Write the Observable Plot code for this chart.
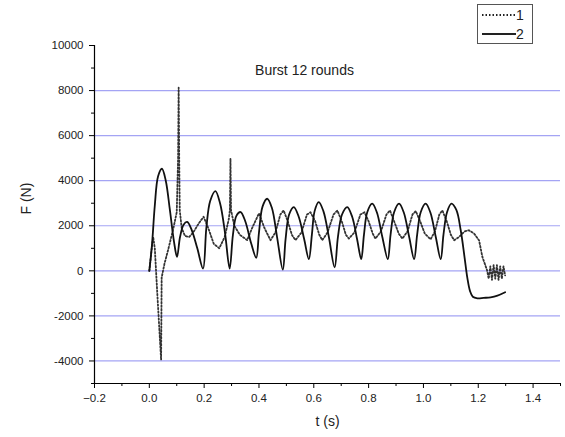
<!DOCTYPE html>
<html>
<head>
<meta charset="utf-8">
<script src="https://cdn.jsdelivr.net/npm/d3@7"></script>
<script src="https://cdn.jsdelivr.net/npm/@observablehq/plot@0.6"></script>
<style>
  html, body { margin: 0; padding: 0; background: #fff; }
  #chart { width: 565px; height: 437px; }
</style>
</head>
<body>
<div id="chart"></div>
<script>
// ---- data ----
const titleText = "Burst 12 rounds";
const xLabel = "t (s)";
const yLabel = "F (N)";
const seriesNames = ["1", "2"];

const xDomain = [-0.2, 1.5];
const yDomain = [-5000, 10000];
const xTicks = [-0.2, 0.0, 0.2, 0.4, 0.6, 0.8, 1.0, 1.2, 1.4];
const xMinorTicks = [-0.1, 0.1, 0.3, 0.5, 0.7, 0.9, 1.1, 1.3, 1.5];
const yTicks = [-4000, -2000, 0, 2000, 4000, 6000, 8000, 10000];
const yMinorTicks = [-5000, -3000, -1000, 1000, 3000, 5000, 7000, 9000];
const gridValues = [-4000, -2000, 0, 2000, 4000, 6000, 8000];

// series 1 (dotted)
const t1 = [0.000, 0.008, 0.014, 0.020, 0.030, 0.043, 0.045, 0.055, 0.070, 0.088, 0.100, 0.105, 0.107, 0.109, 0.111,
  0.118, 0.130, 0.145, 0.160, 0.180, 0.198, 0.215, 0.235, 0.255, 0.275, 0.290, 0.294, 0.296, 0.298,
  0.310, 0.330, 0.357, 0.375, 0.400, 0.420, 0.442, 0.460, 0.478, 0.490, 0.505, 0.520, 0.533,
  0.555, 0.575, 0.588, 0.605, 0.620, 0.631, 0.650, 0.672, 0.686, 0.702, 0.717, 0.728,
  0.748, 0.770, 0.785, 0.800, 0.815, 0.825, 0.845, 0.865, 0.878, 0.893, 0.910, 0.923,
  0.942, 0.960, 0.972, 0.988, 1.005, 1.026, 1.042, 1.058, 1.069, 1.085, 1.100, 1.112,
  1.130, 1.150, 1.166, 1.185, 1.203, 1.215, 1.232, 1.238, 1.244, 1.250, 1.256, 1.262,
  1.268, 1.274, 1.280, 1.286, 1.292, 1.298];
const f1 = [0, 900, 1500, 1000, -1200, -3950, -300, 300, 1000, 1900, 2600, 5000, 8130, 5000, 2700,
  1900, 1550, 1500, 1700, 2100, 2400, 1900, 1200, 1000, 1500, 2300, 2700, 4980, 2700,
  2000, 1600, 1360, 1900, 2550, 1900, 1360, 1700, 2500, 2680, 2200, 1600, 1360,
  1700, 2500, 2600, 2200, 1600, 1360, 1700, 2500, 2680, 2200, 1600, 1430,
  1700, 2500, 2600, 2200, 1650, 1430, 1750, 2500, 2680, 2200, 1650, 1430,
  1750, 2500, 2650, 2200, 1650, 1400, 1750, 2500, 2680, 2200, 1600, 1360,
  1500, 1750, 1800, 1650, 1350, 620, 30, -350, 200, -400, 250, -350,
  250, -400, 200, -350, 200, -200];

// series 2 (solid)
const t2 = [0.000, 0.010, 0.020, 0.032, 0.046, 0.060, 0.075, 0.090, 0.101, 0.112, 0.125, 0.138, 0.155, 0.175, 0.196,
  0.208, 0.222, 0.241, 0.258, 0.276, 0.293, 0.305, 0.318, 0.333, 0.350, 0.372, 0.390,
  0.400, 0.413, 0.430, 0.447, 0.466, 0.487, 0.497, 0.510, 0.527, 0.545, 0.565, 0.582,
  0.593, 0.603, 0.618, 0.635, 0.655, 0.676, 0.688, 0.703, 0.722, 0.740, 0.758, 0.773,
  0.783, 0.795, 0.813, 0.830, 0.850, 0.870, 0.880, 0.893, 0.911, 0.928, 0.948, 0.966,
  0.977, 0.990, 1.008, 1.025, 1.045, 1.063, 1.073, 1.086, 1.102, 1.120, 1.136, 1.150,
  1.160, 1.170, 1.180, 1.197, 1.220, 1.245, 1.270, 1.298];
const f2 = [0, 1200, 2900, 4200, 4530, 4000, 2700, 1300, 620, 1500, 2050, 2170, 1800, 1000, 100,
  1900, 3100, 3540, 3000, 1700, 100, 1600, 2450, 2610, 2200, 1200, 580,
  1700, 2850, 3200, 2800, 1500, 50, 1400, 2500, 2830, 2400, 1400, 520,
  1600, 2650, 3050, 2650, 1500, 150, 1500, 2500, 2830, 2400, 1400, 520,
  1600, 2600, 2980, 2600, 1500, 520, 1600, 2600, 2980, 2600, 1500, 520,
  1600, 2600, 2980, 2600, 1500, 520, 1600, 2600, 2980, 2700, 1800, 600,
  -300, -900, -1150, -1220, -1200, -1175, -1100, -950];

const s1 = t1.map((t, i) => ({t, f: f1[i]}));
const s2 = t2.map((t, i) => ({t, f: f2[i]}));

const font = "'Liberation Sans', Arial, sans-serif";

const plot = Plot.plot({
  width: 565,
  height: 437,
  marginLeft: 94,
  marginRight: 5,
  marginTop: 45,
  marginBottom: 54,
  style: {fontFamily: font, fontSize: "11.5px", background: "#fff", color: "#222"},
  x: {domain: xDomain},
  y: {domain: yDomain},
  marks: [
    Plot.ruleY(gridValues, {stroke: "#a4a4f4", strokeWidth: 1.2}),
    Plot.axisX({ticks: xTicks, tickFormat: d3.format(".1f"), tickSize: 5, tickPadding: 5, label: null, stroke: "#000"}),
    Plot.axisX({ticks: xMinorTicks, tickSize: 3, text: null, label: null, stroke: "#000"}),
    Plot.axisY({ticks: yTicks, tickFormat: d => String(d), tickSize: 5, tickPadding: 6, label: null, stroke: "#000"}),
    Plot.axisY({ticks: yMinorTicks, tickSize: 3, text: null, label: null, stroke: "#000"}),
    Plot.ruleY([yDomain[0]], {stroke: "#000", strokeWidth: 1.2}),
    Plot.ruleX([xDomain[0]], {stroke: "#000", strokeWidth: 1.2}),
    Plot.line(s1, {x: "t", y: "f", stroke: "#333", strokeWidth: 1.8, strokeDasharray: "1.5,2"}),
    Plot.line(s2, {x: "t", y: "f", stroke: "#111", strokeWidth: 1.8, curve: "catmull-rom"}),
    Plot.text([titleText], {frameAnchor: "top", dx: -23, dy: 20, fontSize: 14, fill: "#222"}),
    Plot.text([xLabel], {frameAnchor: "bottom", dy: 42, fontSize: 14, fill: "#222"}),
    Plot.text([yLabel], {frameAnchor: "left", dx: -68, rotate: -90, fontSize: 14, fill: "#222"})
  ]
});

// legend in the top margin
const svg = d3.select(plot);
const lg = svg.append("g").attr("font-family", font).attr("font-size", 14).attr("fill", "#222");
lg.append("rect").attr("x", 477.5).attr("y", 4.5).attr("width", 55).attr("height", 39)
  .attr("fill", "#fff").attr("stroke", "#555").attr("stroke-width", 1);
const legendStyles = [
  {dash: "1.5,2", width: 1.8},
  {dash: null, width: 1.8}
];
seriesNames.forEach((name, i) => {
  const y = 15 + i * 19;
  const ln = lg.append("line").attr("x1", 482).attr("x2", 516).attr("y1", y).attr("y2", y)
    .attr("stroke", "#222").attr("stroke-width", legendStyles[i].width);
  if (legendStyles[i].dash) ln.attr("stroke-dasharray", legendStyles[i].dash);
  lg.append("text").attr("x", 520).attr("y", y).attr("dy", "0.35em").text(name);
});

document.getElementById("chart").appendChild(plot);
</script>
</body>
</html>
